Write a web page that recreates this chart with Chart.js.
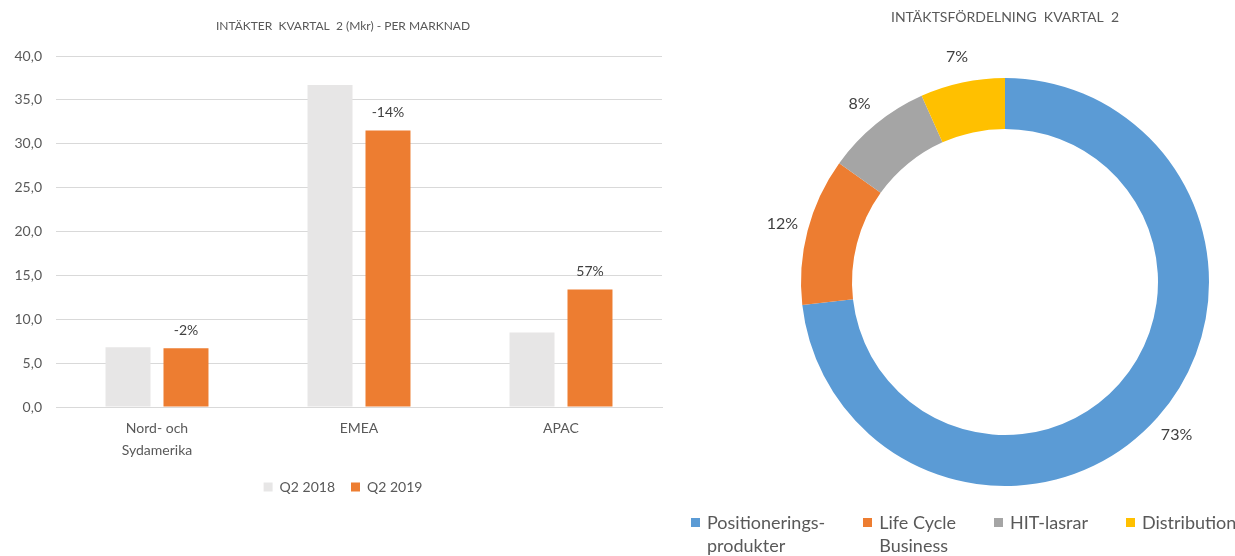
<!DOCTYPE html>
<html><head><meta charset="utf-8">
<script src="https://cdn.jsdelivr.net/npm/chart.js@4.4.0/dist/chart.umd.min.js"></script>
<style>
html,body{margin:0;padding:0;background:#fff;width:1235px;height:556px;overflow:hidden;font-family:Lato,sans-serif}
#bar{position:absolute;left:0;top:0}
#pie{position:absolute;left:680px;top:0}
#pieLegend{position:absolute;left:691px;top:511px;display:flex;color:#595959;font:18px/23px Lato,sans-serif}
.item{display:flex;flex:none;align-items:flex-start;margin-right:38px;white-space:pre}
.box{width:9px;height:9px;margin-top:7px;margin-right:7px;flex:none}
</style></head>
<body>
<canvas id="bar" width="680" height="556"></canvas>
<canvas id="pie" width="555" height="556"></canvas>
<div id="pieLegend"></div>
<script>
// ---- data ----
const marketCategories = [["Nord- och", "Sydamerika"], "EMEA", "APAC"];
const seriesNames = ["Q2 2018", "Q2 2019"];
const q2_2018 = [6.8, 36.7, 8.5];
const q2_2019 = [6.7, 31.5, 13.4];
const changeLabels = ["-2%", "-14%", "57%"];
const segmentLabels = ["Positionerings-\nprodukter", "Life Cycle\nBusiness", "HIT-lasrar", "Distribution"];
const segmentShares = [73.2, 11.7, 8.4, 6.7];

const barColors = ["#E7E6E6", "#ED7D31"];
const pieColors = ["#5B9BD5", "#ED7D31", "#A5A5A5", "#FFC000"];
const textColor = "#595959";

Chart.defaults.font.family = "Lato, sans-serif";

const barLabelPlugin = {
  id: "barLabels",
  afterLayout(chart) {
    // center title and legend like the original (box starts 24px from the left edge)
    chart.legend.left += 24;
    chart.titleBlock.left += 24;
  },
  afterDatasetsDraw(chart) {
    const meta = chart.getDatasetMeta(1);
    const ctx = chart.ctx;
    ctx.save();
    ctx.font = "14px Lato, sans-serif";
    ctx.fillStyle = "#404040";
    ctx.textAlign = "center";
    ctx.textBaseline = "middle";
    meta.data.forEach((el, i) => ctx.fillText(changeLabels[i], el.x, el.y - 18));
    ctx.restore();
  }
};

new Chart(document.getElementById("bar"), {
  type: "bar",
  data: {
    labels: marketCategories,
    datasets: [
      { label: seriesNames[0], data: q2_2018, backgroundColor: barColors[0] },
      { label: seriesNames[1], data: q2_2019, backgroundColor: barColors[1] }
    ]
  },
  options: {
    responsive: false,
    animation: false,
    categoryPercentage: 0.574,
    barPercentage: 0.776,
    layout: { padding: { left: 0, right: 18, top: 0, bottom: 52 } },
    plugins: {
      title: {
        display: true, text: "INTÄKTER  KVARTAL  2 (Mkr) - PER MARKNAD", color: textColor,
        font: { size: 12, weight: "normal" }, padding: { top: 18.8, bottom: 22.8 }
      },
      legend: {
        position: "bottom",
        labels: { boxWidth: 9, boxHeight: 9, padding: 16, color: textColor, font: { size: 14 } }
      },
      tooltip: { enabled: false }
    },
    scales: {
      x: {
        grid: { display: false },
        border: { display: true, color: "#D9D9D9" },
        ticks: { color: textColor, font: { size: 14, lineHeight: 1.55 }, padding: 3 },
        afterFit(s) { s.height = 57; }
      },
      y: {
        min: 0, max: 40,
        ticks: { stepSize: 5, color: textColor, font: { size: 14 }, padding: 14,
          callback: v => v.toFixed(1).replace(".", ",") },
        grid: { color: "#D9D9D9", drawTicks: false },
        border: { display: false },
        afterFit(s) { s.width = 56; }
      }
    }
  },
  plugins: [barLabelPlugin]
});

const pieLabelPlugin = {
  id: "pieLabels",
  afterDatasetsDraw(chart) {
    const meta = chart.getDatasetMeta(0);
    const ctx = chart.ctx;
    const data = chart.data.datasets[0].data;
    ctx.save();
    ctx.font = "16px Lato, sans-serif";
    ctx.fillStyle = "#404040";
    ctx.textAlign = "center";
    ctx.textBaseline = "middle";
    meta.data.forEach((el, i) => {
      const mid = (el.startAngle + el.endAngle) / 2;
      const r = el.outerRadius + 26;
      ctx.fillText(Math.round(data[i]) + "%", el.x + Math.cos(mid) * r, el.y + Math.sin(mid) * r);
    });
    ctx.restore();
  }
};

new Chart(document.getElementById("pie"), {
  type: "doughnut",
  data: {
    labels: segmentLabels,
    datasets: [{ data: segmentShares, backgroundColor: pieColors, borderWidth: 0 }]
  },
  options: {
    responsive: false,
    animation: false,
    cutout: "75%",
    layout: { padding: { left: 121, right: 26, top: 0, bottom: 70 } },
    plugins: {
      legend: { display: false },
      tooltip: { enabled: false },
      title: {
        display: true, text: "INTÄKTSFÖRDELNING  KVARTAL  2", color: textColor,
        font: { size: 14, weight: "normal" }, padding: { top: 8.6, bottom: 52.6 }
      }
    }
  },
  plugins: [pieLabelPlugin]
});

const legendEl = document.getElementById("pieLegend");
segmentLabels.forEach((lab, i) => {
  const item = document.createElement("div");
  item.className = "item";
  const box = document.createElement("span");
  box.className = "box";
  box.style.background = pieColors[i];
  const txt = document.createElement("span");
  txt.textContent = lab;
  item.appendChild(box);
  item.appendChild(txt);
  legendEl.appendChild(item);
});
</script>
</body></html>
